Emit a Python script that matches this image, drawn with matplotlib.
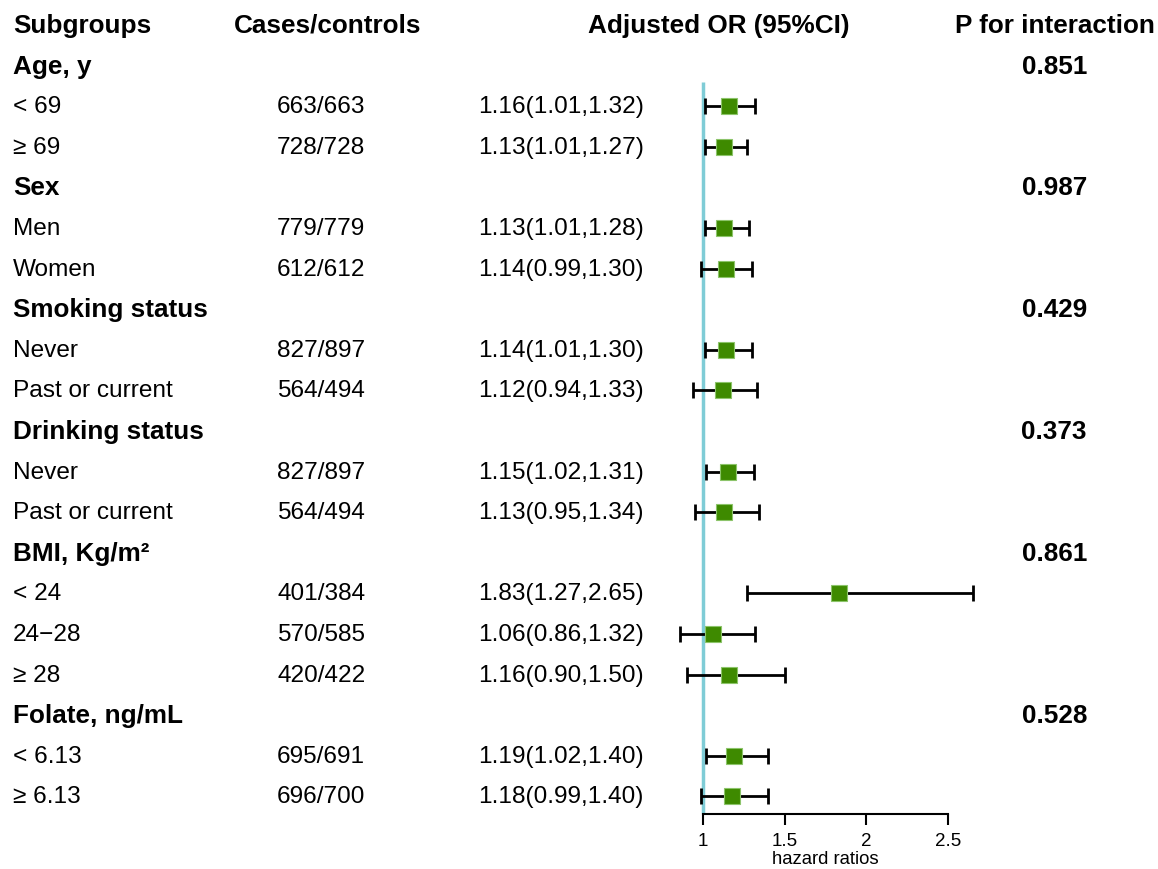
import numpy as np
import matplotlib.pyplot as plt
from matplotlib.transforms import blended_transform_factory

plt.rcParams['font.family'] = ['Liberation Sans', 'DejaVu Sans']

# -------------------------------
# Data
# -------------------------------
labels = ["Age, y", "< 69", "≥ 69",
          "Sex", "Men", "Women",
          "Smoking status", "Never", "Past or current",
          "Drinking status", "Never", "Past or current",
          "BMI, Kg/m²", "< 24", "24−28", "≥ 28",
          "Folate, ng/mL", "< 6.13", "≥ 6.13"]
is_group = [True, False, False,
            True, False, False,
            True, False, False,
            True, False, False,
            True, False, False, False,
            True, False, False]
cases = ["", "663/663", "728/728",
         "", "779/779", "612/612",
         "", "827/897", "564/494",
         "", "827/897", "564/494",
         "", "401/384", "570/585", "420/422",
         "", "695/691", "696/700"]
odds = [np.nan, 1.16, 1.13,
        np.nan, 1.13, 1.14,
        np.nan, 1.14, 1.12,
        np.nan, 1.15, 1.13,
        np.nan, 1.83, 1.06, 1.16,
        np.nan, 1.19, 1.18]
lower = [np.nan, 1.01, 1.01,
         np.nan, 1.01, 0.99,
         np.nan, 1.01, 0.94,
         np.nan, 1.02, 0.95,
         np.nan, 1.27, 0.86, 0.90,
         np.nan, 1.02, 0.99]
upper = [np.nan, 1.32, 1.27,
         np.nan, 1.28, 1.30,
         np.nan, 1.30, 1.33,
         np.nan, 1.31, 1.34,
         np.nan, 2.65, 1.32, 1.50,
         np.nan, 1.40, 1.40]
p_inter = ["0.851", "", "",
           "0.987", "", "",
           "0.429", "", "",
           "0.373", "", "",
           "0.861", "", "", "",
           "0.528", "", ""]
headers = ["Subgroups", "Cases/controls", "Adjusted OR (95%CI)", "P for interaction"]
xticks = [1, 1.5, 2, 2.5]

odds = np.array(odds)
lower = np.array(lower)
upper = np.array(upper)
rows = np.arange(1, len(labels) + 1)

# -------------------------------
# Layout
# -------------------------------
W, H = 1158, 870
fig = plt.figure(figsize=(W / 100, H / 100), dpi=100)

row0_px, row_step = 26, 40.6
axis_px = 815
ax = fig.add_axes([0, (H - axis_px) / H, 1, axis_px / H])

px_per_unit = (948 - 703) / 1.5
ax.set_xlim(1 - 703 / px_per_unit, 1 + (W - 703) / px_per_unit)
ax.set_ylim((axis_px - row0_px) / row_step, -row0_px / row_step)

trans = blended_transform_factory(fig.transFigure, ax.transData)

# headers
hx = [13 / W, 234 / W, 719 / W, 1155 / W]
hal = ["left", "left", "center", "right"]
for txt, x, a in zip(headers, hx, hal):
    ax.text(x, 0, txt, transform=trans, ha=a, va="center",
            fontsize=18.8, fontweight="bold")

# rows
for i, r in enumerate(rows):
    if is_group[i]:
        ax.text(13 / W, r, labels[i], transform=trans, ha="left", va="center",
                fontsize=18.8, fontweight="bold")
        ax.text(1087 / W, r, p_inter[i], transform=trans, ha="right", va="center",
                fontsize=18.8, fontweight="bold")
    else:
        ax.text(13 / W, r, labels[i], transform=trans, ha="left", va="center",
                fontsize=17.6)
        ax.text(277 / W, r, cases[i], transform=trans, ha="left", va="center",
                fontsize=17.6)
        ax.text(478 / W, r, f"{odds[i]:.2f}({lower[i]:.2f},{upper[i]:.2f})",
                transform=trans, ha="left", va="center", fontsize=17.6)

# reference line
ax.plot([1, 1], [(83 - row0_px) / row_step, ax.get_ylim()[0]],
        color="#7FCCD6", lw=2.5, zorder=1, solid_capstyle="butt")

# error bars + squares
mask = ~np.isnan(odds)
ax.errorbar(odds[mask], rows[mask],
            xerr=[odds[mask] - lower[mask], upper[mask] - odds[mask]],
            fmt="none", ecolor="black", elinewidth=2, capsize=6, capthick=2, zorder=2)
ax.plot(odds[mask], rows[mask], "s", color="#3E8A00", markersize=11,
        markeredgecolor="#8CC46A", markeredgewidth=0.8, zorder=3)

# axis
for s in ["top", "right", "left"]:
    ax.spines[s].set_visible(False)
ax.spines["bottom"].set_bounds(1, 2.5)
ax.spines["bottom"].set_linewidth(1.5)
ax.set_xticks(xticks)
ax.set_xticklabels(["1", "1.5", "2", "2.5"])
ax.tick_params(axis="x", length=8, width=1.5, labelsize=13.5, pad=5)
ax.set_yticks([])
ax.text(1.75, (860 - row0_px) / row_step, "hazard ratios", ha="center", va="center",
        fontsize=13.3)

fig.savefig("out.png", dpi=100)
